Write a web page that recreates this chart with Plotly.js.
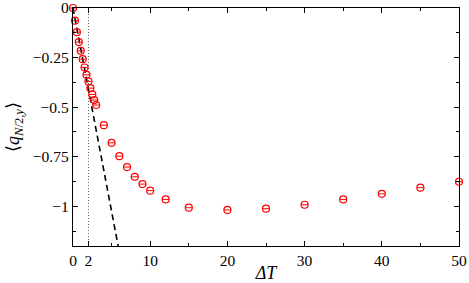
<!DOCTYPE html>
<html><head><meta charset="utf-8">
<script src="https://cdn.plot.ly/plotly-3.0.1.min.js"></script>
<style>html,body{margin:0;padding:0;background:#fff}#c{width:469px;height:283px}</style>
</head><body><div id="c"></div>
<script>
const deltaT = [0,0.25,0.5,0.75,1,1.25,1.5,1.75,2,2.25,2.5,2.75,3,4,5,6,7,8,9,10,12,15,20,25,30,35,40,45,50];
const qMean = [0,-0.064,-0.122,-0.172,-0.216,-0.258,-0.300,-0.337,-0.370,-0.404,-0.436,-0.464,-0.489,-0.591,-0.680,-0.747,-0.802,-0.851,-0.888,-0.921,-0.965,-1.007,-1.018,-1.012,-0.992,-0.965,-0.937,-0.906,-0.876];
const slopeX = [0,5.85];
const slopeY = [0,-1.2];
const refX = [2,2];
const refY = [0,-1.2];
const xTickVals = [0,2,10,20,30,40,50];
const xTickText = ['0','2','10','20','30','40','50'];
const yTickVals = [0,-0.25,-0.5,-0.75,-1];
const yTickText = ['0','−0.25','−0.5','−0.75','−1'];

const font = {family:'"Liberation Serif", "DejaVu Serif", serif', size:15.5, color:'#000'};
const titleFont = {family:'"Liberation Serif", "DejaVu Serif", serif', size:18, color:'#000'};
const traces = [
  {x:refX, y:refY, mode:'lines', line:{color:'#333', width:0.8, dash:'1px,2px'}, hoverinfo:'skip'},
  {x:slopeX, y:slopeY, mode:'lines', line:{color:'#000', width:1.6, dash:'6px,4px'}, hoverinfo:'skip'},
  {x:deltaT, y:qMean, mode:'markers', cliponaxis:false, marker:{symbol:'circle-open', size:7, color:'#ff0000', line:{width:1.2, color:'#ff0000'}}},
  {x:deltaT, y:qMean, mode:'markers', cliponaxis:false, marker:{symbol:'line-ew-open', size:5, color:'#ff0000', line:{width:1, color:'#ff0000'}}}
];
const layout = {
  width:469, height:283,
  margin:{l:73, r:10, t:8, b:37},
  showlegend:false,
  paper_bgcolor:'#fff', plot_bgcolor:'#fff',
  font:font,
  xaxis:{range:[0,50], showgrid:false, zeroline:false, showline:true, linecolor:'#000', linewidth:1.2,
    mirror:'allticks', ticks:'inside', ticklen:5, tickcolor:'#000', tickwidth:1, ticklabeloverflow:'allow',
    tickvals:xTickVals, ticktext:xTickText, tickfont:font,
    minor:{tickvals:[5,15,25,35,45], ticks:'inside', ticklen:3, tickcolor:'#000', tickwidth:1},
    title:{text:'<i>ΔT</i>', font:titleFont, standoff:2}},
  yaxis:{range:[-1.2,0], showgrid:false, zeroline:false, showline:true, linecolor:'#000', linewidth:1.2,
    mirror:'allticks', ticks:'inside', ticklen:5, tickcolor:'#000', tickwidth:1, ticklabeloverflow:'allow',
    tickvals:yTickVals, ticktext:yTickText, tickfont:font,
    minor:{tickvals:[-0.125,-0.375,-0.625,-0.875,-1.125], ticks:'inside', ticklen:3, tickcolor:'#000', tickwidth:1},
    title:{text:'⟨<i>q</i><sub><i>N</i>/2,<i>y</i></sub>⟩', font:titleFont, standoff:8}}
};
Plotly.newPlot('c', traces, layout, {staticPlot:true});
</script></body></html>
